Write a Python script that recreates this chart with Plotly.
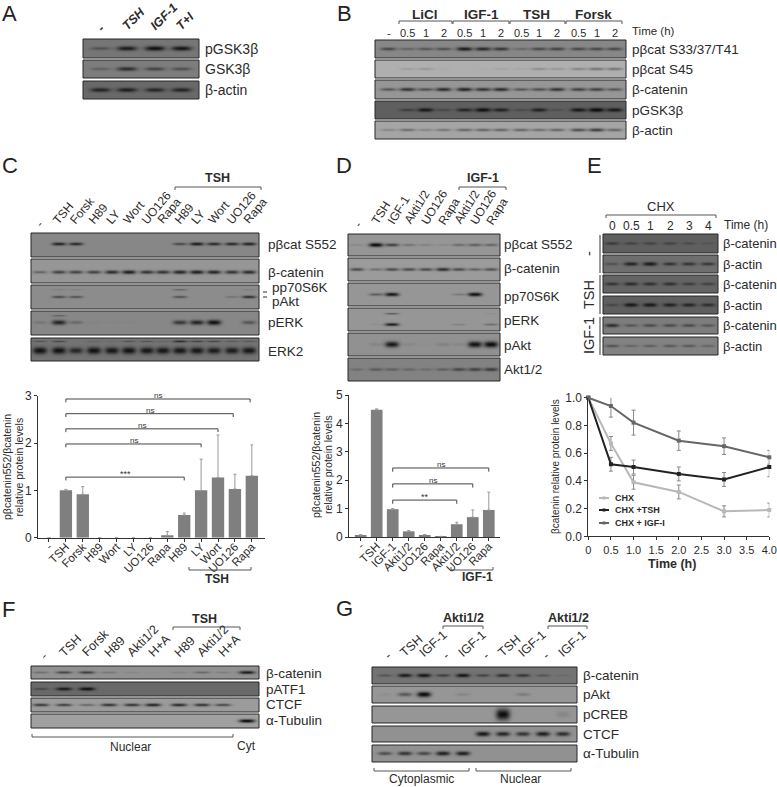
import numpy as np
import plotly.graph_objects as go

W, H = 777, 787
FONT = "Liberation Sans, Arial, sans-serif"
INK = "#2b2b2b"

# ---------- chart data ----------
c_cats = ["-", "TSH", "Forsk", "H89", "Wort", "LY", "UO126", "Rapa", "H89", "LY", "Wort", "UO126", "Rapa"]
c_vals = [0, 1.0, 0.92, 0, 0, 0, 0, 0.05, 0.48, 1.0, 1.27, 1.03, 1.31]
c_errs = [0, 0.02, 0.16, 0, 0, 0, 0, 0.08, 0.04, 0.66, 0.90, 0.31, 0.65]
c_sig_ends = [8, 9, 10, 10.9, 11.9]
c_sig_levels = [1.28, 1.98, 2.30, 2.62, 2.93]
c_sig_labels = ["***", "ns", "ns", "ns", "ns"]

d_cats = ["-", "TSH", "IGF-1", "Akti1/2", "UO126", "Rapa", "Akti1/2", "UO126", "Rapa"]
d_vals = [0.07, 4.48, 0.98, 0.20, 0.07, 0.02, 0.45, 0.70, 0.95]
d_errs = [0.01, 0.03, 0.02, 0.03, 0.02, 0, 0.07, 0.25, 0.63]
d_sig_ends = [6, 7, 8]
d_sig_levels = [1.30, 1.87, 2.43]
d_sig_labels = ["**", "ns", "ns"]

e_time = [0, 0.5, 1, 2, 3, 4]
e_chx = [1, 0.67, 0.39, 0.32, 0.18, 0.19]
e_chx_err = [0, 0.05, 0.05, 0.05, 0.04, 0.05]
e_tsh = [1, 0.52, 0.50, 0.45, 0.41, 0.50]
e_tsh_err = [0, 0.05, 0.05, 0.05, 0.05, 0.07]
e_igf = [1, 0.94, 0.82, 0.69, 0.65, 0.57]
e_igf_err = [0, 0.08, 0.09, 0.07, 0.06, 0.05]

# ---------- blot band intensities (one per lane) ----------
a_pgsk = [.35, .85, .95, .9]
a_gsk = [.25, .7, .5, .4]
a_actin = [.75, .8, .72, .75]

b_s33 = [.5, .3, .4, .45, .85, .75, .65, .25, .5, .55, .5, .5, .5]
b_s45 = [0, .1, .15, .03, 0, .02, .07, .05, .2, .15, .25, .35, .35]
b_cat = [.45, .7, .5, .75, .8, .7, .75, .45, .5, .7, .6, .6, .45]
b_pgsk = [0, .4, .85, .3, .7, .95, .75, .25, .75, .2, .85, 1, .85]
b_actin = [.2, .35, .2, .3, .4, .4, .4, .4, .35, .4, .55, .65, .4]

c_s552 = [0, .8, .75, 0, 0, 0, 0, 0, .5, .85, .75, .75, .8]
c_cat = [.35, .6, .6, .6, .75, .85, .7, .7, .8, .85, .8, .7, .75]
c_pakt = [0, .5, .45, 0, 0, 0, 0, 0, .45, 0, 0, .2, .7]
c_pp70 = [0, .1, .1, 0, 0, 0, 0, 0, .3, 0, 0, 0, .1]
c_perk = [.15, .8, .25, .03, .02, .02, 0, 0, .65, .8, .95, 0, .4]
c_perk_up = [0, .3, 0, 0, 0, 0, 0, 0, 0, 0, 0, 0, 0]
c_erk2 = [.95, .95, .75, .95, .9, .95, .9, .9, .9, .9, .85, .85, .9]
c_erk2_up = [.3, .4, 0, .15, .1, .3, .3, .15, .65, .45, .4, .25, .25]

d_s552 = [.1, 1, .6, .25, .15, .1, .3, .4, .35]
d_cat = [.55, .3, .55, .55, .55, .75, .55, .4, .5]
d_pp70 = [0, .4, .9, 0, 0, 0, .2, .95, 0]
d_perk = [0, .05, .85, 0, 0, 0, .15, 0, .3]
d_perk_up = [0, 0, .4, 0, 0, 0, 0, 0, .05]
d_pakt = [0, .1, .9, .08, .02, .12, .08, .95, 1]
d_akt = [.2, .35, .3, .25, .2, .3, .5, .55, .6]

e_cat1 = [.45, .35, .35, .35, .25, .15]
e_act1 = [.3, .75, .85, .6, .6, .55]
e_cat2 = [.55, .65, .6, .6, .45, .4]
e_act2 = [.3, .85, .85, .75, .7, .6]
e_cat3 = [.7, .35, .45, .45, .45, .35]
e_act3 = [.4, .25, .3, .35, .35, .25]

f_cat = [.25, .55, .6, .2, .08, .03, .12, .3, .15, .85]
f_atf = [.35, .85, .95, 0, 0, 0, 0, 0, 0, 0]
f_ctcf = [.65, .6, .35, .7, .7, .8, .75, .7, .55, 0]
f_tub = [0, 0, 0, 0, 0, 0, 0, 0, 0, 1]

g_cat = [.3, .85, .9, .5, .9, .45, .65, .6, .3, .1]
g_pakt = [.05, .45, 1, 0, .12, 0, 0, .2, 0, 0]
g_creb = [0, 0, 0, 0, 0, 0, 1, 0, 0, .12]
g_ctcf = [0, 0, 0, 0, 0, .9, .8, .7, .85, .75]
g_tub = [.5, .7, .55, .85, .85, 0, 0, 0, 0, 0]

# ---------- text ----------
a_lanes_txt = ["-", "TSH", "IGF-1", "T+I"]
b_times = ["-", "0.5", "1", "2", "0.5", "1", "2", "0.5", "1", "2", "0.5", "1", "2"]
c_blot_txt = ["-", "TSH", "Forsk", "H89", "LY", "Wort", "UO126", "Rapa", "H89", "LY", "Wort", "UO126", "Rapa"]
d_blot_txt = ["-", "TSH", "IGF-1", "Akti1/2", "UO126", "Rapa", "Akti1/2", "UO126", "Rapa"]
e_times = ["0", "0.5", "1", "2", "3", "4"]
f_txt = ["-", "TSH", "Forsk", "H89", "Akti1/2", "H+A", "H89", "Akti1/2", "H+A"]
g_txt = ["-", "TSH", "IGF-1", "-", "IGF-1", "-", "TSH", "IGF-1", "-", "IGF-1"]

# ---------- layout of the blot panels (page pixels) ----------
A_L = [100.5, 127, 155, 181.5]
B_L = [388.5, 407.5, 425.5, 443.5, 464.5, 483, 501, 521, 539, 557, 578.5, 596.5, 614.5]
C_L = [40, 59, 76, 94, 112, 129, 147, 163, 180, 197, 214, 232, 249]
D_L = [357, 376, 392, 409, 426, 443, 459, 475, 491]
E_L = [612, 631, 650, 670, 689, 708]
F_L = [41, 64, 87, 109, 132, 153, 179, 202, 223, 247]
G_L = [385, 405, 424, 443, 463, 483, 503, 523, 543, 563]

fig = go.Figure()
shapes, notes = [], []


def txt(x, y, s, size=13.5, bold=False, italic=False, angle=0, xa="left", ya="middle", color=INK):
    t = s
    if bold:
        t = f"<b>{t}</b>"
    if italic:
        t = f"<i>{t}</i>"
    notes.append(dict(x=x, y=y, xref="x", yref="y", text=t, showarrow=False, xanchor=xa, yanchor=ya,
                      textangle=angle, borderpad=0, font=dict(family=FONT, size=size, color=color)))


def bracket(x0, x1, y, drop=3, color="#555"):
    shapes.append(dict(type="path", xref="x", yref="y", line=dict(color=color, width=1),
                       path=f"M{x0},{y + drop}L{x0},{y}L{x1},{y}L{x1},{y + drop}"))


def strip(x0, x1, y0, y1, lanes, vals, bg, hw=6, bh=1.7, yc=.5, up=None, yu=.22, uph=1.2):
    xs = np.arange(x0, x1) + .5
    ys = np.arange(y0, y1) + .5
    X, Y = np.meshgrid(xs, ys)
    z = np.full(X.shape, float(bg))
    for rows, c, h in ((vals, yc, bh), (up, yu, uph)):
        if rows is None:
            continue
        for lane, v in zip(lanes, rows):
            if v <= 0:
                continue
            fx = np.exp(-(np.abs(X - lane) / hw) ** 3)
            fy = np.exp(-((Y - (y0 + (y1 - y0) * c)) / (h * (.55 + .55 * v))) ** 2)
            z -= (z - 12) * v * fx * fy
    fig.add_trace(go.Heatmap(z=z, x0=x0 + .5, dx=1, y0=y0 + .5, dy=1, coloraxis="coloraxis",
                             hoverinfo="skip", xaxis="x", yaxis="y"))
    shapes.append(dict(type="rect", xref="x", yref="y", x0=x0, x1=x1, y0=y0, y1=y1,
                       line=dict(color="#262626", width=1)))


# Panel A
for v, bg, y0, y1, lab in ((a_pgsk, 118, 39, 58, "pGSK3β"), (a_gsk, 125, 60, 78, "GSK3β"),
                           (a_actin, 105, 81, 99, "β-actin")):
    strip(83, 199, y0, y1, A_L, v, bg, hw=10, bh=2.2)
    txt(204, (y0 + y1) / 2, lab, size=14)
for l, s in zip(A_L, a_lanes_txt):
    if s == "-":
        txt(l - 7, 36, s, size=12.5, bold=True, italic=True, angle=-45, ya="bottom")
    else:
        txt(l - 9, 34.5, s, size=12.5, bold=True, italic=True, angle=-45, ya="bottom")

# Panel B
for v, bg, y0, y1, lab in ((b_s33, 135, 40, 58, "pβcat S33/37/T41"), (b_s45, 175, 60, 78, "pβcat S45"),
                           (b_cat, 150, 80, 99, "β-catenin"), (b_pgsk, 95, 101, 119, "pGSK3β"),
                           (b_actin, 165, 121, 139, "β-actin")):
    strip(375, 626, y0, y1, B_L, v, bg, hw=8, bh=1.9)
    txt(631, (y0 + y1) / 2, lab, size=13.5)
for s, cx, a, b in (("LiCl", 425, 399, 452), ("IGF-1", 481, 453, 509), ("TSH", 536, 510, 565), ("Forsk", 593.5, 566, 622)):
    txt(cx, 14, s, size=13.5, bold=True, xa="center")
    bracket(a, b, 21)
for l, s in zip(B_L, b_times):
    txt(l, 33, s, size=11, xa="center")
txt(631, 31, "Time (h)", size=11.5)

# Panel C
for v, up, bg, y0, y1, bh, yc in ((c_s552, None, 135, 233, 257, 1.6, .46), (c_cat, None, 150, 259, 283, 1.9, .55),
                                  (c_pakt, c_pp70, 140, 285, 309, 1.5, .5), (c_perk, c_perk_up, 135, 311, 335, 2.4, .48),
                                  (c_erk2, c_erk2_up, 115, 338, 361, 3.2, .55)):
    strip(31, 259, y0, y1, C_L, v, bg, hw=7, bh=bh, yc=yc, up=up, yu=.15 if bg == 115 else .2)
for y, lab, x in ((244, "pβcat S552", 267), (272, "β-catenin", 267), (287, "pp70S6K", 271), (301, "pAkt", 271),
                  (322, "pERK", 267), (351, "ERK2", 267)):
    txt(x, y, lab)
for y in (292, 297):
    shapes.append(dict(type="line", xref="x", yref="y", x0=263, x1=267, y0=y, y1=y, line=dict(color=INK, width=1)))
for l, s in zip(C_L, c_blot_txt):
    if s == "-":
        txt(l - 9, 231, s, size=12, angle=-50, ya="bottom")
    else:
        txt(l - 10, 228, s, size=12, angle=-50, ya="bottom")
txt(217, 178, "TSH", size=12.5, bold=True, xa="center")
bracket(175, 261, 187)

# Panel D
for v, up, bg, y0, y1, bh in ((d_s552, None, 150, 234, 256, 1.8), (d_cat, None, 155, 258, 281, 1.8), (d_pp70, None, 150, 283, 306, 1.8),
                              (d_perk, d_perk_up, 150, 308, 331, 1.5), (d_pakt, None, 145, 333, 356, 2.8), (d_akt, None, 130, 358, 381, 2.0)):
    strip(348, 500, y0, y1, D_L, v, bg, hw=7, bh=bh, yc=.72 if up is not None else .5, up=up, yu=.25)
for y, lab in ((244, "pβcat S552"), (268, "β-catenin"), (296, "pp70S6K"), (320, "pERK"), (345, "pAkt"), (369, "Akt1/2")):
    txt(503, y, lab)
for l, s in zip(D_L, d_blot_txt):
    if s == "-":
        txt(l - 7, 231, s, size=12, angle=-58, ya="bottom")
    else:
        txt(l - 9, 228, s, size=12, angle=-58, ya="bottom")
txt(483, 178, "IGF-1", size=12.5, bold=True, xa="center")
bracket(459, 506, 187)

# Panel E
for v, bg, y0, y1, lab in ((e_cat1, 95, 234, 253, "β-catenin"), (e_act1, 110, 255, 273, "β-actin"),
                           (e_cat2, 100, 275, 293, "β-catenin"), (e_act2, 95, 296, 314, "β-actin"),
                           (e_cat3, 125, 317, 334, "β-catenin"), (e_act3, 130, 337, 355, "β-actin")):
    strip(603, 718, y0, y1, E_L, v, bg, hw=7, bh=1.9)
    txt(722, (y0 + y1) / 2, lab, size=13)
for y0, y1 in ((235, 273), (275, 314), (317, 355)):
    shapes.append(dict(type="line", xref="x", yref="y", x0=600, x1=600, y0=y0, y1=y1, line=dict(color="#777", width=1.5)))
for y, s in ((254, "-"), (295, "TSH"), (336, "IGF-1")):
    txt(589, y, s, size=14.5, angle=-90, xa="center")
txt(661, 206, "CHX", size=13, xa="center")
bracket(606, 716, 215)
for l, s in zip(E_L, e_times):
    txt(l, 226, s, size=12, xa="center")
txt(723, 225, "Time (h)", size=12)

# Panel F
for v, bg, y0, y1, lab, yl in ((f_cat, 145, 666, 679, "β-catenin", 673), (f_atf, 105, 682, 696, "pATF1", 689),
                               (f_ctcf, 155, 698, 712, "CTCF", 704), (f_tub, 160, 714, 728, "α-Tubulin", 720)):
    strip(31, 259, y0, y1, F_L, v, bg, hw=8, bh=1.6)
    txt(265, yl, lab)
for l, s in zip(F_L, f_txt):
    if s == "-":
        txt(l - 5, 664, s, size=12.5, angle=-45, ya="bottom")
    else:
        txt(l - 9, 661, s, size=12.5, angle=-45, ya="bottom")
txt(204, 619, "TSH", size=12.5, bold=True, xa="center")
bracket(173, 240, 627)
bracket(32, 233, 737, drop=-3)
txt(130, 747, "Nuclear", size=12, xa="center")
txt(246, 746, "Cyt", size=12, xa="center")

# Panel G
for v, bg, y0, y1, lab, bh in ((g_cat, 115, 667, 684, "β-catenin", 1.8), (g_pakt, 150, 686, 703, "pAkt", 2.4),
                               (g_creb, 150, 706, 723, "pCREB", 5.0), (g_ctcf, 145, 726, 742, "CTCF", 2.3),
                               (g_tub, 145, 745, 762, "α-Tubulin", 2.1)):
    strip(372, 577, y0, y1, G_L, v, bg, hw=7, bh=bh)
    txt(582, (y0 + y1) / 2, lab)
for l, s in zip(G_L, g_txt):
    if s == "-":
        txt(l - 5, 664, s, size=12.5, angle=-42, ya="bottom")
    else:
        txt(l - 9, 661, s, size=12.5, angle=-42, ya="bottom")
txt(463, 618, "Akti1/2", size=12.5, bold=True, xa="center")
txt(568, 618, "Akti1/2", size=12.5, bold=True, xa="center")
bracket(443, 483, 626)
bracket(548, 587, 626)
bracket(374, 469, 771, drop=-3)
bracket(476, 571, 771, drop=-3)
txt(421, 779, "Cytoplasmic", size=12, xa="center")
txt(520, 779, "Nuclear", size=12, xa="center")

# Panel letters
for s, x, y in (("A", 1, 13), ("B", 336, 13), ("C", 1, 165), ("D", 335, 165),
                ("E", 586, 165), ("F", 1, 609), ("G", 335, 608)):
    txt(x, y, s, size=22, color="#222")


def dom(x0, x1, y0, y1):
    return dict(x=[x0 / W, x1 / W], y=[1 - y1 / H, 1 - y0 / H])


# Bar chart C
fig.add_trace(go.Bar(x=list(range(len(c_cats))), y=c_vals, width=.73, marker=dict(color="#7f7f7f", line=dict(width=0)),
                     error_y=dict(type="data", symmetric=False, array=c_errs, arrayminus=[0] * len(c_errs),
                                  color="#999", thickness=1, width=1.5),
                     xaxis="x2", yaxis="y2", showlegend=False))
# Bar chart D
fig.add_trace(go.Bar(x=list(range(len(d_cats))), y=d_vals, width=.73, marker=dict(color="#7f7f7f", line=dict(width=0)),
                     error_y=dict(type="data", symmetric=False, array=d_errs, arrayminus=[0] * len(d_errs),
                                  color="#999", thickness=1, width=1.5),
                     xaxis="x3", yaxis="y3", showlegend=False))


def sig(start, ends, levels, labels, drop, xa, ya):
    for e, lv, lb in zip(ends, levels, labels):
        fig.add_trace(go.Scatter(x=[start, start, e, e], y=[lv - drop, lv, lv, lv - drop], mode="lines",
                                 line=dict(color="#444", width=1), xaxis=xa, yaxis=ya, showlegend=False, hoverinfo="skip"))
        notes.append(dict(x=(start + e) / 2, y=lv, xref=xa, yref=ya, text=lb, showarrow=False, yanchor="bottom",
                          font=dict(family=FONT, size=8 if lb == "ns" else 9, color="#333"), borderpad=0,
                          yshift=-2 if lb == "ns" else -3))


sig(1, c_sig_ends, c_sig_levels, c_sig_labels, .07, "x2", "y2")
sig(2, d_sig_ends, d_sig_levels, d_sig_labels, .13, "x3", "y3")

# Line chart E
series_e = (("CHX", e_chx, e_chx_err, "#b8b8b8"), ("CHX +TSH", e_tsh, e_tsh_err, "#222222"),
            ("CHX + IGF-I", e_igf, e_igf_err, "#666666"))
for name, vals, errs, col in series_e:
    fig.add_trace(go.Scatter(x=e_time, y=vals, mode="lines+markers", name=name,
                             line=dict(color=col, width=2), marker=dict(symbol="square", size=4, color=col),
                             error_y=dict(type="data", array=errs, color="#888", thickness=1, width=2),
                             cliponaxis=False, xaxis="x4", yaxis="y4", showlegend=False))
for (name, _, _, col), y in zip(series_e, (498, 510, 523)):
    shapes.append(dict(type="line", xref="x", yref="y", x0=599, x1=609, y0=y, y1=y, line=dict(color=col, width=2)))
    shapes.append(dict(type="rect", xref="x", yref="y", x0=602.5, x1=605.5, y0=y - 1.5, y1=y + 1.5,
                       fillcolor=col, line=dict(width=0)))
    txt(614, y, name, size=9, bold=True)

txt(7, 467, "pβcatenin552/βcatenin", size=10.5, angle=-90, xa="center")
txt(18.5, 467, "relative protein levels", size=10.5, angle=-90, xa="center")
txt(316, 465, "pβcatenin552/βcatenin", size=10.5, angle=-90, xa="center")
txt(328, 465, "relative protein levels", size=10.5, angle=-90, xa="center")
txt(555, 467, "βcatenin relative protein levels", size=10, angle=-90, xa="center")
txt(672, 564, "Time (h)", size=12.5, bold=True, xa="center")
bracket(189, 251, 570, drop=-3)
txt(217, 579, "TSH", size=12, bold=True, xa="center")
bracket(451, 493, 570, drop=-3)
txt(477, 577, "IGF-1", size=12, bold=True, xa="center")

axis_common = dict(showgrid=False, zeroline=False, showline=True, linecolor="#333", linewidth=1, ticks="outside",
                   ticklen=3, tickcolor="#333", tickfont=dict(family=FONT, size=12, color=INK))
bar_tick_font = dict(family=FONT, size=11.5, color=INK)
dC = dom(38, 265, 395.7, 537.7)
dD = dom(349, 500, 395, 537)
dE = dom(588.3, 769.3, 397.7, 536.3)

fig.update_layout(
    width=W, height=H, margin=dict(l=0, r=0, t=0, b=0, autoexpand=False), paper_bgcolor="white", plot_bgcolor="rgba(0,0,0,0)",
    font=dict(family=FONT, color=INK), showlegend=False,
    coloraxis=dict(colorscale=[[0, "#000000"], [1, "#ffffff"]], cmin=0, cmax=255, showscale=False),
    xaxis=dict(range=[0, W], domain=[0, 1], visible=False, fixedrange=True),
    yaxis=dict(range=[H, 0], domain=[0, 1], visible=False, fixedrange=True),
    xaxis2=dict(axis_common, domain=dC["x"], anchor="y2", range=[-.65, 12.78], tickmode="array",
                tickvals=list(range(len(c_cats))), ticktext=c_cats, tickangle=-45, ticklabelstandoff=-6,
                tickfont=bar_tick_font),
    yaxis2=dict(axis_common, domain=dC["y"], anchor="x2", range=[0, 3], tickvals=[0, 1, 2, 3]),
    xaxis3=dict(axis_common, domain=dD["x"], anchor="y3", range=[-.73, 8.7], tickmode="array",
                tickvals=list(range(len(d_cats))), ticktext=d_cats, tickangle=-45, ticklabelstandoff=-6,
                tickfont=bar_tick_font),
    yaxis3=dict(axis_common, domain=dD["y"], anchor="x3", range=[0, 5], tickvals=[0, 1, 2, 3, 4, 5]),
    xaxis4=dict(axis_common, domain=dE["x"], anchor="y4", range=[0, 4], tickmode="array",
                tickvals=[0, .5, 1, 1.5, 2, 2.5, 3, 3.5, 4], ticklabeloverflow="allow",
                ticktext=["0", "0.5", "1.0", "1.5", "2.0", "2.5", "3.0", "3.5", "4.0"], tickangle=0,
                tickfont=dict(family=FONT, size=11, color=INK)),
    yaxis4=dict(axis_common, domain=dE["y"], anchor="x4", range=[0, 1], tickmode="array",
                tickvals=[0, .2, .4, .6, .8, 1], ticktext=["0.0", "0.2", "0.4", "0.6", "0.8", "1.0"]),
    shapes=shapes, annotations=notes,
)

fig.write_html("out.html", config=dict(displayModeBar=False),
               post_script="document.body.style.margin='0';document.body.style.overflow='hidden';")
